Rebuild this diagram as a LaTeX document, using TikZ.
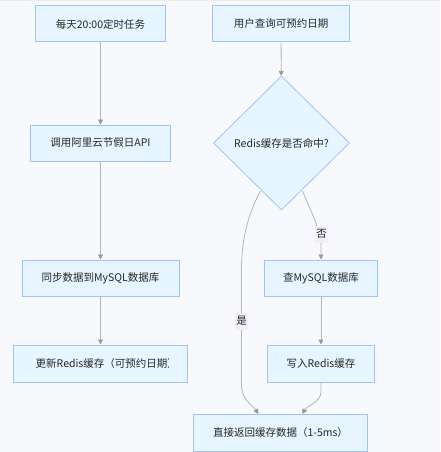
\documentclass[tikz,border=0pt]{standalone}
\usepackage{fontspec}
\setmainfont{Noto Sans CJK SC}
\usetikzlibrary{shapes.geometric,arrows.meta}
\definecolor{bg}{HTML}{F8F9FC}
\definecolor{boxfill}{HTML}{E6F5FF}
\definecolor{boxline}{HTML}{9EC3FF}
\definecolor{edge}{HTML}{B5B5B5}
\definecolor{tip}{HTML}{9A9A9A}
\definecolor{lblbg}{HTML}{F2EEF9}
\tikzset{
  txt/.style={font=\fontsize{10.5}{13}\selectfont, text=black!85},
  box/.style={draw=boxline, fill=boxfill, line width=1pt, inner sep=0pt, txt},
  dia/.style={diamond, draw=boxline, fill=boxfill, line width=0.8pt, inner sep=0pt, minimum width=136pt, minimum height=134pt, txt},
  conn/.style={draw=edge, line width=0.8pt, -{Triangle[length=5pt,width=5pt,color=tip]}},
  lbl/.style={fill=lblbg, inner sep=1.5pt, minimum height=17pt, txt}
}
\begin{document}
\begin{tikzpicture}[x=1pt,y=-1pt]
\fill[bg] (0,0) rectangle (439,452);
\draw[color=black!8, line width=1pt] (0,0.5) -- (439,0.5);
% left column
\node[box, minimum width=130pt, minimum height=36pt] (a1) at (100,24) {每天20:00定时任务};
\node[box, minimum width=140pt, minimum height=36pt] (a2) at (100,143) {调用阿里云节假日API};
\node[box, minimum width=157pt, minimum height=36pt] (a3) at (100,278) {同步数据到MySQL数据库};
\node[box, minimum width=174pt, minimum height=37pt] (a4) at (100,363.5) {};
\begin{scope}
\clip (30,350) rectangle (167.5,378);
\node[anchor=west, inner sep=0pt, txt] (a4t) at (35,363.5) {更新Redis缓存（可预约日期）};
\end{scope}
% right column
\node[box, minimum width=137pt, minimum height=36pt] (b1) at (280.5,24) {用户查询可预约日期};
\node[dia] (d) at (281,143) {Redis缓存是否命中?};
\node[box, minimum width=113pt, minimum height=36pt] (b2) at (320.5,278) {查MySQL数据库};
\node[box, minimum width=107pt, minimum height=37pt] (b3) at (320.5,363.5) {写入Redis缓存};
\node[box, minimum width=174pt, minimum height=37pt] (e) at (280,432.5) {直接返回缓存数据（1-5ms）};
% edges
\draw[conn] (a1) -- (a2);
\draw[conn] (a2) -- (a3);
\draw[conn] (a3) -- (a4);
\draw[conn] (b1) -- (d);
\coordinate (dl) at (260,191);
\coordinate (dr) at (302,191);
\coordinate (el) at (258,414);
\coordinate (er) at (302,414);
\draw[conn] (dl) .. controls (247,215) and (241,240) .. (241,270) -- (241,385) .. controls (241,400) and (252,405) .. (el);
\draw[conn] (dr) .. controls (312,215) and (320,230) .. (320.5,245) -- (b2.north);
\draw[conn] (b2) -- (b3);
\draw[conn] (b3.south) -- (320.5,392) .. controls (320.5,402) and (306,406) .. (er);
\node[lbl] (yes) at (241,321) {是};
\node[lbl] (no) at (321,234) {否};
\end{tikzpicture}
\end{document}
